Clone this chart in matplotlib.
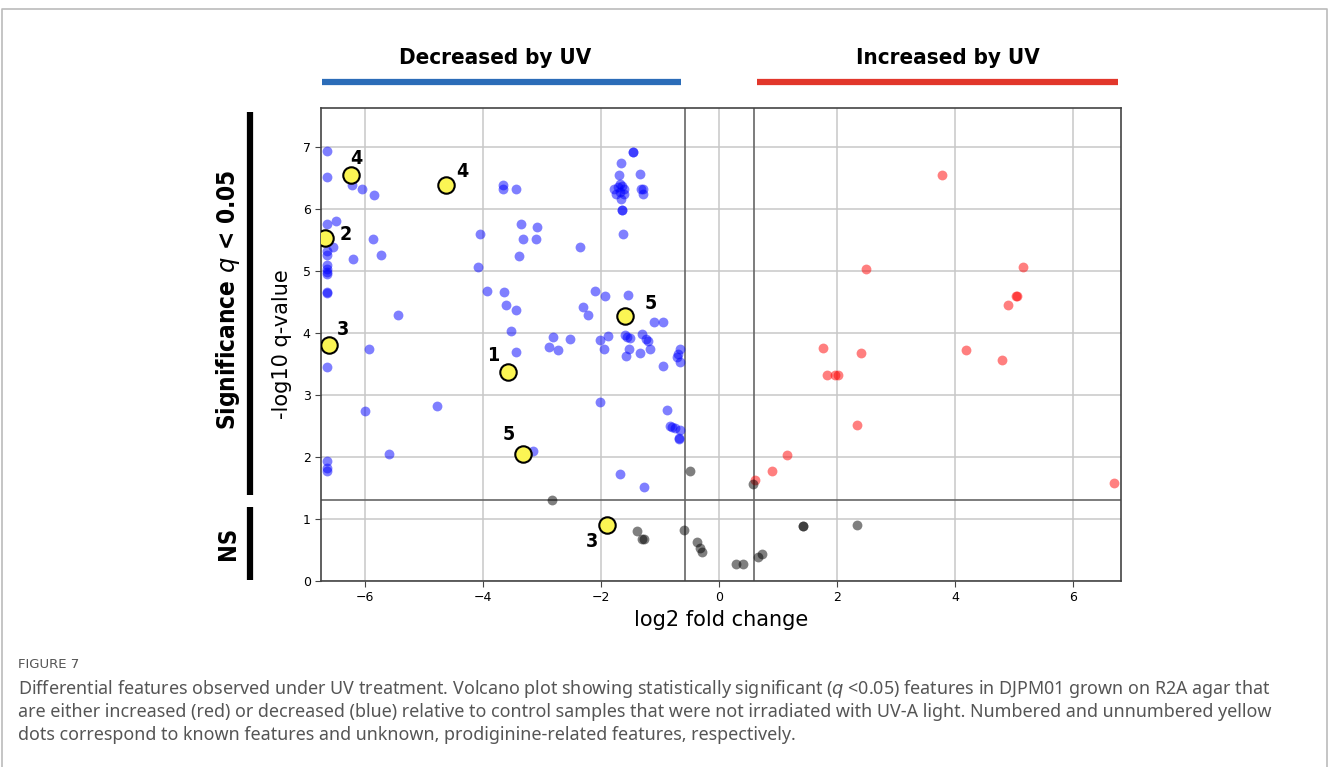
import numpy as np
import matplotlib
matplotlib.use("Agg")
import matplotlib.pyplot as plt
from matplotlib.lines import Line2D

# decreased by UV (blue)
down_x = [-6.65, -6.65, -6.23, -6.06, -5.85, -6.65, -6.50, -6.55, -6.65, -6.65,
          -6.65, -6.65, -6.65, -6.65, -6.65, -6.65, -5.87, -5.74, -6.21, -5.44,
          -4.05, -4.09, -3.94, -3.67, -3.67, -3.44, -3.36, -3.09, -3.33, -3.11,
          -3.39, -3.65, -3.62, -3.44, -3.53, -2.36, -5.94, -6.65, -6.00, -4.78,
          -5.60, -6.65, -6.65, -6.65, -3.45, -2.88, -2.74, -2.82, -2.53, -3.16,
          -2.11, -1.94, -2.31, -2.22, -1.55, -2.02, -1.88, -1.95, -1.60, -1.56,
          -1.52, -1.53, -1.58, -1.34, -1.10, -0.95, -1.31, -1.25, -1.21, -1.18,
          -0.67, -0.70, -0.72, -0.66, -0.95, -1.64, -1.65, -1.65, -2.02, -0.88,
          -0.84, -0.80, -0.75, -0.66, -0.69, -0.68, -1.68, -1.28,
          -1.46, -1.46, -1.67, -1.70, -1.34, -1.68, -1.65, -1.71, -1.79, -1.62,
          -1.68, -1.75, -1.62, -1.66, -1.33, -1.30, -1.30]
down_y = [6.93, 6.52, 6.39, 6.33, 6.23, 5.76, 5.81, 5.38, 5.33, 5.26,
          5.10, 5.04, 4.99, 4.96, 4.65, 4.66, 5.52, 5.26, 5.19, 4.29,
          5.60, 5.07, 4.67, 6.39, 6.33, 6.33, 5.76, 5.71, 5.52, 5.52,
          5.24, 4.66, 4.46, 4.37, 4.04, 5.38, 3.75, 3.46, 2.74, 2.82,
          2.05, 1.94, 1.83, 1.77, 3.69, 3.78, 3.73, 3.94, 3.91, 2.10,
          4.67, 4.59, 4.42, 4.29, 4.62, 3.88, 3.95, 3.75, 3.97, 3.93,
          3.92, 3.74, 3.63, 3.68, 4.17, 4.17, 3.98, 3.90, 3.87, 3.75,
          3.74, 3.66, 3.61, 3.53, 3.47, 5.60, 5.98, 5.98, 2.88, 2.76,
          2.50, 2.48, 2.46, 2.44, 2.31, 2.29, 1.73, 1.52,
          6.92, 6.92, 6.74, 6.55, 6.56, 6.41, 6.37, 6.35, 6.33, 6.32,
          6.28, 6.24, 6.24, 6.17, 6.33, 6.24, 6.33]

# increased by UV (red)
up_x = [3.78, 2.48, 5.15, 5.03, 5.05, 4.89, 1.75, 2.40, 4.19, 4.79,
        1.83, 1.96, 2.01, 2.34, 1.15, 0.90, 0.61, 6.69]
up_y = [6.55, 5.04, 5.07, 4.60, 4.60, 4.46, 3.76, 3.68, 3.72, 3.56,
        3.32, 3.32, 3.32, 2.52, 2.04, 1.77, 1.63, 1.58]

# not significant (gray)
ns_x = [-2.84, -0.50, -1.39, -1.31, -1.28, -0.59, -0.38, -0.32, -0.29, 0.28,
        0.41, 0.57, 0.65, 0.72, 1.42, 1.42, 2.33]
ns_y = [1.30, 1.78, 0.80, 0.68, 0.68, 0.82, 0.63, 0.53, 0.46, 0.28,
        0.28, 1.56, 0.39, 0.43, 0.88, 0.88, 0.90]

# highlighted features (yellow) with their numbers
known_x = [-6.24, -4.63, -6.68, -6.61, -3.58, -3.33, -1.59, -1.90]
known_y = [6.55, 6.38, 5.54, 3.81, 3.37, 2.05, 4.28, 0.91]
known_lab = ["4", "4", "2", "3", "1", "5", "5", "3"]
lab_off = [(4, 12), (12, 10), (15, 2), (10, 11), (-11, 12), (-10, 14), (18, 9), (-11, -12)]

fc_cut = np.log2(1.5)
q_cut = -np.log10(0.05)

fig = plt.figure(figsize=(13.3, 7.67), dpi=100)
ax = fig.add_axes([0.2414, 0.2425, 0.6015, 0.6167])

ax.scatter(down_x, down_y, s=50, color="blue", alpha=0.5, linewidths=0, zorder=3)
ax.scatter(up_x, up_y, s=50, color="red", alpha=0.5, linewidths=0, zorder=3)
ax.scatter(ns_x, ns_y, s=50, color="black", alpha=0.5, linewidths=0, zorder=3)
ax.scatter(known_x, known_y, s=140, color="#fbf554", edgecolors="black",
           linewidths=1.5, zorder=5)
for x, y, t, off in zip(known_x, known_y, known_lab, lab_off):
    ax.annotate(t, (x, y), xytext=off, textcoords="offset points", ha="center",
                va="center", fontsize=14, fontweight="bold", fontstretch="condensed",
                zorder=6)

ax.axvline(-fc_cut, color="#666666", lw=1.2, zorder=2)
ax.axvline(fc_cut, color="#666666", lw=1.2, zorder=2)
ax.axhline(q_cut, color="#666666", lw=1.2, zorder=2)

ax.set_xlim(-6.75, 6.81)
ax.set_ylim(0, 7.63)
ax.set_xticks([-6, -4, -2, 0, 2, 4, 6])
ax.set_yticks(range(8))
ax.grid(True, color="#c8c8c8", lw=1.1, zorder=0)
ax.set_axisbelow(True)
ax.tick_params(labelsize=9, color="#444444", length=4)
for sp in ax.spines.values():
    sp.set_color("#444444")
    sp.set_linewidth(1.2)
ax.set_xlabel("log2 fold change", fontsize=15, labelpad=4)
ax.set_ylabel("-log10 q-value", fontsize=15, labelpad=8)

# header bars
W, H = 1330, 767
def fx(px):
    return px / W
def fy(py):
    return 1 - py / H

fig.add_artist(Line2D([fx(322), fx(681)], [fy(82), fy(82)], color="#2b6cb8", lw=4.5,
                      solid_capstyle="butt"))
fig.add_artist(Line2D([fx(757), fx(1118)], [fy(82), fy(82)], color="#e2372b", lw=4.5,
                      solid_capstyle="butt"))
fig.text(fx(495), fy(58), "Decreased by UV", ha="center", va="center", fontsize=16,
         fontweight="bold", fontstretch="condensed")
fig.text(fx(948), fy(58), "Increased by UV", ha="center", va="center", fontsize=16,
         fontweight="bold", fontstretch="condensed")

# side bars
fig.add_artist(Line2D([fx(250), fx(250)], [fy(112), fy(495)], color="black", lw=4.5,
                      solid_capstyle="butt"))
fig.add_artist(Line2D([fx(250), fx(250)], [fy(507), fy(580)], color="black", lw=4.5,
                      solid_capstyle="butt"))
fig.text(fx(228), fy(300), "Significance $\\mathit{q}$ < 0.05", rotation=90, ha="center",
         va="center", fontsize=17.5, fontweight="bold", fontstretch="condensed")
fig.text(fx(228), fy(543), "NS", rotation=90, ha="center", va="center", fontsize=17,
         fontweight="bold", fontstretch="condensed")

# page frame
fig.add_artist(Line2D([fx(2), fx(2), fx(1327), fx(1327)], [0, fy(9), fy(9), 0],
                      color="#bbbbbb", lw=1.2))

# caption
fig.text(fx(18), fy(664), "FIGURE 7", ha="left", va="center", fontsize=9.5, color="#555555")
caption = [
    "Differential features observed under UV treatment. Volcano plot showing statistically significant ($\\mathit{q}$ <0.05) features in DJPM01 grown on R2A agar that",
    "are either increased (red) or decreased (blue) relative to control samples that were not irradiated with UV-A light. Numbered and unnumbered yellow",
    "dots correspond to known features and unknown, prodiginine-related features, respectively.",
]
for i, line in enumerate(caption):
    fig.text(fx(18), fy(689 + 23 * i), line, ha="left", va="center", fontsize=12.9,
             color="#555555", family="Noto Sans")

fig.savefig("out.png", dpi=100)
